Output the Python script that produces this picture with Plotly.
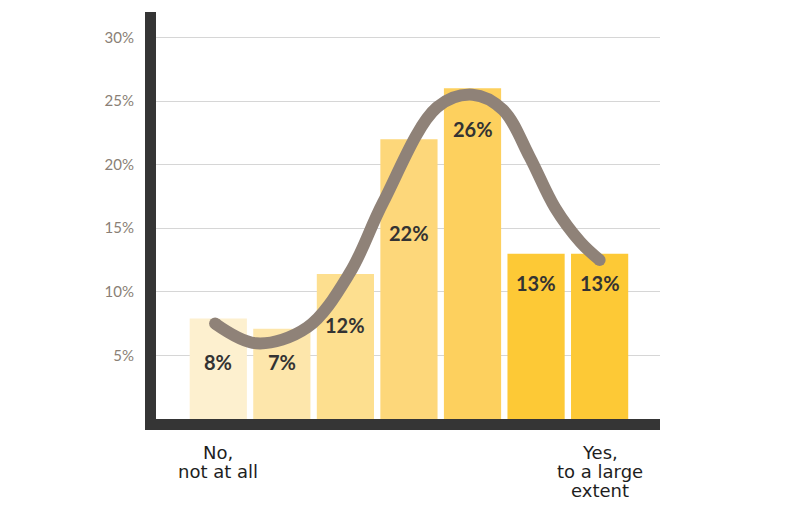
import plotly.graph_objects as go

# =========================
# DATA
# =========================

categories = [0, 1, 2, 3, 4, 5, 6]
bar_values = [7.9, 7.1, 11.4, 22.0, 26.0, 13.0, 13.0]
bar_labels = ["8%", "7%", "12%", "22%", "26%", "13%", "13%"]
label_pos = [4.45, 4.45, 7.4, 14.6, 22.8, 10.7, 10.7]
bar_colors = ["#fdf0cf", "#fde6ab", "#fddf8f", "#fdd77a", "#fdd05e", "#fdc936", "#fdc936"]

# trend curve
curve_x = [-0.05, 0.6, 1.4, 2.07, 2.59, 3.44, 4.0, 4.48, 4.9, 5.3, 5.7, 6.0]
curve_y = [7.5, 5.95, 7.2, 11.5, 17.0, 24.5, 25.5, 24.3, 20.6, 16.6, 13.9, 12.5]

y_ticks = [5, 10, 15, 20, 25, 30]
y_tick_text = ["5%", "10%", "15%", "20%", "25%", "30%"]
end_labels = [["No,", "not at all"], ["Yes,", "to a large", "extent"]]
end_label_x = [0, 6]

# =========================
# FIGURE
# =========================

fig = go.Figure()

fig.add_trace(go.Bar(
    x=categories,
    y=bar_values,
    marker=dict(color=bar_colors, line=dict(width=0)),
    width=0.9,
    hoverinfo="skip",
))

fig.add_trace(go.Scatter(
    x=curve_x,
    y=curve_y,
    mode="lines",
    line=dict(color="#8f8278", width=12, shape="spline", smoothing=1.0),
    hoverinfo="skip",
))

# round caps at both ends of the curve
fig.add_trace(go.Scatter(
    x=[curve_x[0], curve_x[-1]],
    y=[curve_y[0], curve_y[-1]],
    mode="markers",
    marker=dict(color="#8f8278", size=12, line=dict(width=0)),
    hoverinfo="skip",
))

for x, y, t in zip(categories, label_pos, bar_labels):
    fig.add_annotation(
        x=x, y=y, text="<b>" + t + "</b>", showarrow=False,
        font=dict(family="Lato", size=20, color="#333333"),
    )

for x, lines in zip(end_label_x, end_labels):
    for i, t in enumerate(lines):
        fig.add_annotation(
            x=x, y=0, yref="paper", yanchor="top", text=t, showarrow=False,
            yshift=-21 - 19 * i,
            font=dict(family="DejaVu Sans", size=18, color="#1e1e1e"),
        )

# page body adds an 8px offset, so margins are shifted to match
fig.update_layout(
    width=800,
    height=516,
    margin=dict(l=148, r=148, t=4, b=105),
    paper_bgcolor="white",
    plot_bgcolor="white",
    showlegend=False,
    bargap=0.1,
)

fig.update_xaxes(
    range=[-0.98, 6.95],
    showticklabels=False,
    showgrid=False,
    zeroline=False,
    showline=True,
    linecolor="#353535",
    linewidth=11,
)

fig.update_yaxes(
    range=[0, 32],
    tickvals=y_ticks,
    ticktext=y_tick_text,
    tickfont=dict(family="Lato", size=15, color="#8a7f76"),
    ticks="outside",
    ticklen=8,
    tickcolor="white",
    showgrid=True,
    gridcolor="#d6d6d6",
    gridwidth=1,
    zeroline=False,
    showline=True,
    linecolor="#353535",
    linewidth=11,
)

fig.write_html("out.html")
